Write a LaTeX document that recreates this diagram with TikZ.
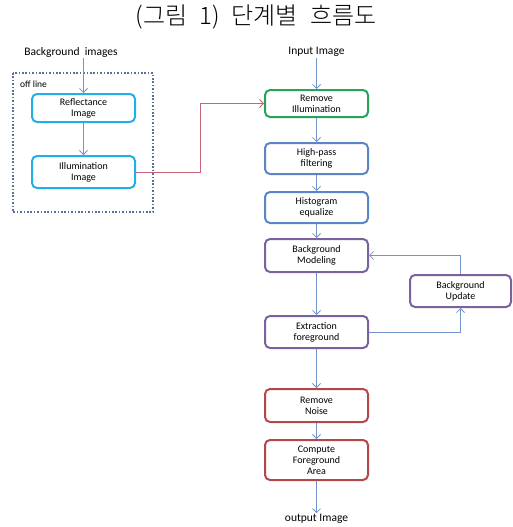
\documentclass[tikz,border=0pt]{standalone}
\usepackage{fontspec}
\setmainfont{Carlito}
\newfontfamily\krfont{Noto Sans CJK KR Light}
\usetikzlibrary{arrows.meta}
\definecolor{ccyan}{HTML}{22AEE8}
\definecolor{cgreen}{HTML}{2AA35A}
\definecolor{cblue}{HTML}{5B86C5}
\definecolor{cpurple}{HTML}{7B619E}
\definecolor{cred}{HTML}{B5474B}
\definecolor{carrow}{HTML}{6F95CC}
\definecolor{cpink}{HTML}{C8647A}
\definecolor{cdot}{HTML}{5A729A}
\tikzset{
  box/.style={draw, rounded corners=5pt, line width=2pt, fill=white, minimum width=103pt, align=center, font=\fontsize{10}{11}\selectfont, inner sep=1pt},
  arr/.style={draw=carrow, line width=0.8pt, -{Straight Barb[length=4pt,width=8pt]}},
  redarr/.style={draw=cpink, line width=0.8pt, -{Straight Barb[length=4pt,width=8pt]}},
  lbl/.style={font=\fontsize{11.5}{13}\selectfont, inner sep=1pt}
}
\begin{document}
\begin{tikzpicture}[x=1pt,y=-1pt]
\useasboundingbox (0,0) rectangle (512,527);
\node (title) at (256,17) {\krfont\fontsize{24}{27}\selectfont (그림\hspace{12pt}1)\hspace{12pt}단계별\hspace{12pt}흐름도};
% left
\node[lbl] (bgimg) at (71,52) {Background\ \ images};
\draw[cdot, line width=2pt, dash pattern=on 1.6pt off 1.8pt] (13,73) rectangle (153,212);
\node[anchor=west, font=\fontsize{9.5}{11}\selectfont, inner sep=0pt] (offline) at (20,84) {off line};
\node[box, draw=ccyan, minimum height=28pt] (refl) at (83.5,108) {Reflectance\\Image};
\node[box, draw=ccyan, minimum height=32pt] (illum) at (83.5,172) {Illumination\\Image};
\draw[arr] (bgimg.south -| refl.north) -- (refl.north);
\draw[arr] (refl.south) -- (illum.north);
% right
\node[lbl] (input) at (316.5,52) {Input Image};
\node[box, draw=cgreen, minimum height=27pt] (remill) at (316.5,103.5) {Remove\\Illumination};
\node[box, draw=cblue, minimum height=31pt] (hpf) at (316.5,158.5) {High-pass\\filtering};
\node[box, draw=cblue, minimum height=31pt] (hist) at (316.5,207.5) {Histogram\\equalize};
\node[box, draw=cpurple, minimum height=33pt] (model) at (316.5,255.5) {Background\\Modeling};
\node[box, draw=cpurple, minimum height=32pt] (extr) at (316.5,332) {Extraction\\foreground};
\node[box, draw=cpurple, minimum height=32pt, minimum width=101pt] (upd) at (460.5,291) {Background\\Update};
\node[box, draw=cred, minimum height=33pt] (noise) at (316.5,405.5) {Remove\\Noise};
\node[box, draw=cred, minimum height=40pt] (area) at (316.5,460) {Compute\\Foreground\\Area};
\node[lbl] (output) at (316.5,519) {output Image};
\draw[arr] (input.south) -- (remill.north);
\draw[arr] (remill.south) -- (hpf.north);
\draw[arr] (hpf.south) -- (hist.north);
\draw[arr] (hist.south) -- (model.north);
\draw[arr] (model.south) -- (extr.north);
\draw[arr] (extr.south) -- (noise.north);
\draw[arr] (noise.south) -- (area.north);
\draw[arr] (area.south) -- (output.north);
\draw[arr] (extr.east) -| (upd.south);
\draw[arr] (upd.north) |- (model.east);
\draw[redarr] (illum.east) -- ++(64,0) |- (remill.west);
\end{tikzpicture}
\end{document}
